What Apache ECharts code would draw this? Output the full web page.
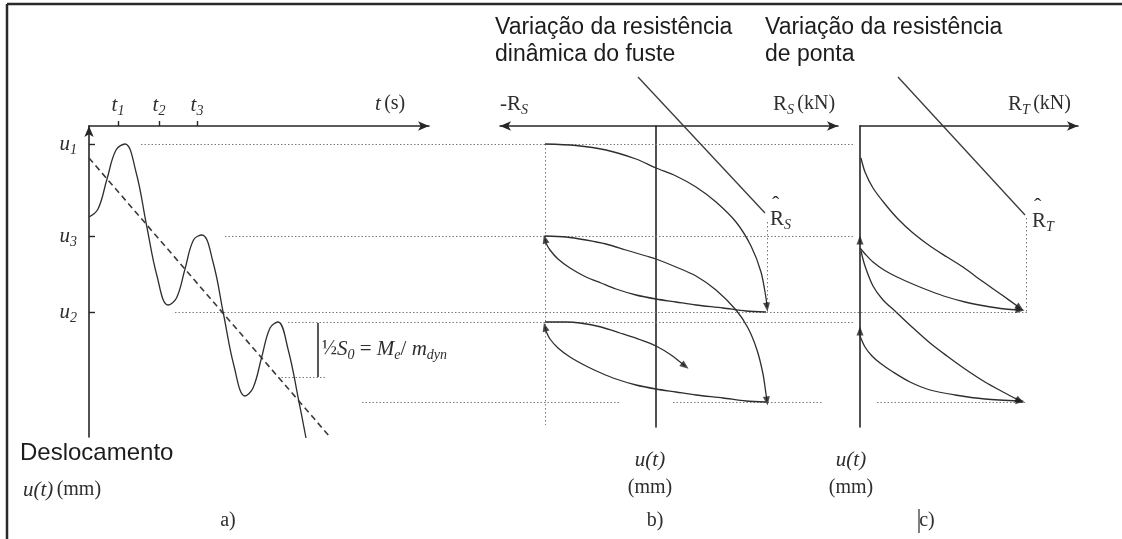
<!DOCTYPE html>
<html>
<head>
<meta charset="utf-8">
<script src="https://cdn.jsdelivr.net/npm/echarts@6/dist/echarts.min.js"></script>
<style>
  html, body { margin: 0; padding: 0; background: #ffffff; }
  #chart { width: 1122px; height: 539px; }
</style>
</head>
<body>
<div id="chart"></div>
<script>
// ---- panel a: displacement history u(t) -------------------------------
const timeTicks = [2.9, 7.0, 10.8];          // t1, t2, t3 (s)
const timeTickSubs = ['1', '2', '3'];
const dispTicks = [1.8, 11.0, 18.6];         // u1, u3, u2 (mm)
const dispTickSubs = ['1', '3', '2'];

// mean (permanent set) trend of the displacement
const trendLine = [[0, 3.2], [24.1, 31.1]];
// oscillating pile-head displacement
const displacementWave = [
  [0, 9.1], [0.9, 8.3], [1.8, 5.3], [2.7, 2.4], [3.6, 1.8], [4.7, 4.6],
  [5.75, 9.9], [6.8, 15.0], [7.9, 17.9], [8.75, 17.2], [9.6, 14.3], [10.45, 11.4],
  [11.3, 10.9], [12.4, 13.6], [13.45, 18.8], [14.5, 24.0], [15.6, 27.0], [16.4, 26.2],
  [17.25, 23.2], [18.1, 20.2], [18.9, 19.6], [19.9, 22.3], [21.0, 27.6], [21.7, 31.2]
];
// half rebound  1/2 S0 = Me / mdyn
const reboundBar = [[22.9, 19.7], [22.9, 25.1]];

// dotted reference levels (u, mm) and their extents along the time axis
const guideLevels = [1.8, 11.0, 18.6, 19.6, 25.1];
const guideSpans = [[5.2, 76.6], [13.6, 76.6], [8.6, 93.8], [19.9, 76.6], [18.9, 23.8]];
const lowLevel = 27.6;
const lowSpans = [[27.3, 53.1], [58.4, 73.3], [78.8, 93.6]];

// ---- panel b: dynamic shaft resistance R_S (kN) vs u (mm) ---------------
const shaftLoad1 = [
  [-11.1, 1.8], [-8, 1.95], [-5, 2.4], [-2, 3.3], [0, 4.2], [2, 5.0], [4, 6.1],
  [6, 7.6], [8, 9.6], [9.5, 12.0], [10.5, 14.6], [11.0, 17.2], [11.1, 18.1]
];
const shaftUnload1 = [
  [11.0, 18.6], [9, 18.5], [6.7, 18.2], [4, 17.9], [2, 17.6], [0, 17.3], [-2, 16.9],
  [-4, 16.3], [-5.5, 15.7], [-7, 15.1], [-8.6, 14.2], [-9.8, 13.3], [-10.6, 12.4],
  [-11.0, 11.7], [-11.1, 11.3]
];
const shaftLoad2 = [
  [-11.1, 11.0], [-9, 11.1], [-7, 11.4], [-5, 11.8], [-3, 12.4], [-1, 13.0], [0, 13.3],
  [2, 14.1], [4, 15.0], [6, 16.4], [8, 18.4], [9.2, 20.2], [10.1, 22.4], [10.7, 24.8],
  [11.0, 26.8], [11.1, 27.5]
];
const shaftUnload2 = [
  [11.0, 27.6], [9, 27.5], [6.7, 27.2], [4, 26.9], [2, 26.6], [0, 26.3], [-2, 25.9],
  [-4, 25.3], [-5.5, 24.7], [-7, 24.0], [-8.6, 23.1], [-9.8, 22.2], [-10.6, 21.3],
  [-11.0, 20.5], [-11.1, 20.1]
];
const shaftLoad3 = [
  [-11.1, 19.6], [-9, 19.6], [-7.6, 19.7], [-5.5, 20.1], [-3.6, 20.7], [-1.5, 21.4],
  [0, 22.0], [1.5, 22.9], [2.9, 24.0]
];
const shaftLimitNeg = [[-11.1, 1.8], [-11.1, 29.9]];
const shaftLimitPos = [[11.1, 9.6], [11.1, 18.6]];
const shaftPointer = [[-1.8, -4.9], [10.9, 8.7]];

// ---- panel c: toe resistance R_T (kN) vs u (mm) -------------------------
const toeLoad1 = [
  [0.1, 3.2], [0.5, 4.6], [1.3, 6.2], [2.5, 7.8], [3.8, 9.3], [5.3, 10.7], [7, 12.0],
  [8.7, 13.1], [10.3, 14.1], [12.2, 15.5], [14.2, 16.9], [16.0, 18.2]
];
const toeLoad2 = [
  [0, 12.2], [0.6, 12.9], [1.3, 13.6], [2.4, 14.4], [3.7, 15.1], [5.5, 15.9], [7, 16.5],
  [8.7, 17.1], [10.5, 17.6], [12.5, 18.0], [14.5, 18.3], [16.0, 18.4]
];
const toeLoad3 = [
  [0.1, 12.5], [0.5, 14.0], [1.3, 16.0], [2.3, 17.4], [3.5, 18.5], [5.2, 20.1], [7, 21.7],
  [8.7, 23.0], [10.5, 24.3], [12.5, 25.6], [14.3, 26.6], [16.0, 27.5]
];
const toeLoad4 = [
  [0, 21.0], [0.5, 22.1], [1.2, 23.0], [2.0, 23.7], [3.3, 24.6], [5, 25.6], [7, 26.4],
  [9.5, 26.9], [12.5, 27.3], [16.0, 27.5]
];
const toeRebound = [[0, 11.4], [0, 20.5]];
const toeLimit = [[16.6, 9.2], [16.6, 18.6]];
const toePointer = [[3.8, -4.9], [16.5, 8.9]];

// ---- styling -------------------------------------------------------------
const INK = '#2e2e2e';
const AXIS = '#262626';
const GUIDE = '#7a7a7a';
const SERIF = '"Liberation Serif", "DejaVu Serif", serif';
const SANS = '"Liberation Sans", Arial, sans-serif';

const rich = {
  i: { fontFamily: SERIF, fontStyle: 'italic', fontSize: 21, lineHeight: 26, color: INK },
  r: { fontFamily: SERIF, fontSize: 21, lineHeight: 26, color: INK },
  rs: { fontFamily: SERIF, fontSize: 20, lineHeight: 26, color: INK },
  s: { fontFamily: SERIF, fontStyle: 'italic', fontSize: 14, color: INK, verticalAlign: 'bottom' }
};

function curve(grid, data, extra) {
  return Object.assign({
    type: 'line', xAxisIndex: grid, yAxisIndex: grid, data: data,
    smooth: 0.3, symbol: 'none', showSymbol: false, clip: false,
    silent: true, animation: false, z: 3,
    lineStyle: { color: INK, width: 1.3 }
  }, extra || {});
}
// straight dotted guides; a lines series is left unclipped so it can cross panels
function guides(grid, segments, dash) {
  return {
    type: 'lines', coordinateSystem: 'cartesian2d', xAxisIndex: grid, yAxisIndex: grid,
    data: segments.map(s => ({ coords: s })), clip: false, silent: true,
    animation: false, z: 1, symbol: ['none', 'none'],
    lineStyle: { color: GUIDE, width: 1, type: dash || [1.5, 2], opacity: 1 }
  };
}
// arrowhead oriented along the last segment of a path (both axes use the same scale)
function headAt(path) {
  const a = path[path.length - 2], b = path[path.length - 1];
  const ang = Math.atan2(-(b[1] - a[1]), b[0] - a[0]) * 180 / Math.PI - 90;
  return { value: b, symbolRotate: ang };
}
function heads(grid, items) {
  return {
    type: 'scatter', xAxisIndex: grid, yAxisIndex: grid, data: items,
    symbol: 'triangle', symbolSize: [7, 9], clip: false, silent: true,
    animation: false, z: 4, itemStyle: { color: '#1e1e1e' }
  };
}

const levelSegments = guideLevels.map((u, k) => [[guideSpans[k][0], u], [guideSpans[k][1], u]])
  .concat(lowSpans.map(sp => [[sp[0], lowLevel], [sp[1], lowLevel]]));

const series = [];
// panel a
series.push(guides(0, levelSegments));
series.push(curve(0, trendLine, { smooth: false, lineStyle: { color: '#3a3a3a', width: 1.6, type: [6, 4] } }));
series.push(curve(0, displacementWave, { smooth: 0.4 }));
series.push(curve(0, reboundBar, { smooth: false, lineStyle: { color: INK, width: 1.6 } }));
// panel b
series.push(guides(1, [shaftLimitNeg, shaftLimitPos], [1.5, 2.5]));
series.push(curve(1, shaftPointer, { smooth: false, lineStyle: { color: '#3a3a3a', width: 1.3 } }));
[shaftLoad1, shaftUnload1, shaftLoad2, shaftUnload2, shaftLoad3].forEach(p => series.push(curve(1, p)));
series.push(heads(1, [shaftLoad1, shaftUnload1, shaftLoad2, shaftUnload2, shaftLoad3].map(headAt)));
// panel c
series.push(guides(2, [toeLimit], [1.5, 2.5]));
series.push(curve(2, toePointer, { smooth: false, lineStyle: { color: '#3a3a3a', width: 1.3 } }));
[toeLoad1, toeLoad2, toeLoad3, toeLoad4].forEach(p => series.push(curve(2, p)));
series.push(heads(2, [toeLoad1, toeLoad2, toeLoad3, toeLoad4].map(headAt)
  .concat(toeRebound.map(p => ({ value: p, symbolRotate: 0 })))));

const axisLineStyle = { color: AXIS, width: 1.6 };
const hidden = { axisTick: { show: false }, axisLabel: { show: false }, splitLine: { show: false } };

function text(x, y, str, extra) {
  return {
    type: 'text', x: x, y: y, silent: true, z: 10,
    style: Object.assign({ text: str, rich: rich, fill: INK, align: 'left', verticalAlign: 'middle' }, extra || {})
  };
}
function line(x1, y1, x2, y2, w) {
  return { type: 'line', silent: true, z: 10, shape: { x1, y1, x2, y2 }, style: { stroke: '#2a2a2a', lineWidth: w } };
}

const option = {
  backgroundColor: '#ffffff',
  animation: false,
  grid: [
    { left: 89, top: 126, width: 340, height: 311 },
    { left: 500, top: 126, width: 338, height: 301 },
    { left: 860, top: 126, width: 218, height: 301 }
  ],
  xAxis: [
    {
      gridIndex: 0, type: 'value', min: 0, max: 34, position: 'top',
      axisLine: { onZero: false, symbol: ['none', 'arrow'], symbolSize: [7, 11], lineStyle: axisLineStyle },
      axisTick: { customValues: timeTicks, length: 5, lineStyle: { color: AXIS, width: 1.4 } },
      axisLabel: {
        customValues: timeTicks, margin: 8, rich: rich,
        formatter: v => '{i|t}{s|' + timeTickSubs[timeTicks.indexOf(v)] + '}'
      },
      splitLine: { show: false }
    },
    Object.assign({
      gridIndex: 1, type: 'value', min: -15.6, max: 18.2, position: 'top',
      axisLine: { onZero: false, symbol: ['arrow', 'arrow'], symbolSize: [7, 11], lineStyle: axisLineStyle }
    }, hidden),
    Object.assign({
      gridIndex: 2, type: 'value', min: 0, max: 21.8, position: 'top',
      axisLine: { onZero: false, symbol: ['none', 'arrow'], symbolSize: [7, 11], lineStyle: axisLineStyle }
    }, hidden)
  ],
  yAxis: [
    {
      gridIndex: 0, type: 'value', min: 0, max: 31.1, inverse: true,
      axisLine: { onZero: false, symbol: ['none', 'arrow'], symbolSize: [7, 11], lineStyle: axisLineStyle },
      axisTick: { customValues: dispTicks, inside: true, length: 6, lineStyle: { color: AXIS, width: 1.4 } },
      axisLabel: {
        customValues: dispTicks, margin: 12, rich: rich,
        formatter: v => '{i|u}{s|' + dispTickSubs[dispTicks.indexOf(v)] + '}'
      },
      splitLine: { show: false }
    },
    Object.assign({
      gridIndex: 1, type: 'value', min: 0, max: 30.1, inverse: true,
      axisLine: { onZero: true, lineStyle: axisLineStyle }
    }, hidden),
    Object.assign({
      gridIndex: 2, type: 'value', min: 0, max: 30.1, inverse: true,
      axisLine: { onZero: false, lineStyle: axisLineStyle }
    }, hidden)
  ],
  series: series,
  graphic: [
    // frame
    line(7, 4, 1122, 4, 2.5),
    line(7, 4, 7, 539, 2.5),
    // panel titles
    text(495, 14, 'Variação da resistência\ndinâmica do fuste',
      { rich: null, font: '23px ' + SANS, lineHeight: 27, fill: '#1c1c1c', verticalAlign: 'top' }),
    text(765, 14, 'Variação da resistência\nde ponta',
      { rich: null, font: '23px ' + SANS, lineHeight: 27, fill: '#1c1c1c', verticalAlign: 'top' }),
    // axis names
    text(375, 104, '{i|t} {rs|(s)}'),
    text(500, 104, '{r|-R}{s|S}'),
    text(773, 104, '{r|R}{s|S} {rs|(kN)}'),
    text(1008, 104, '{r|R}{s|T} {rs|(kN)}'),
    // peak resistances
    text(770, 219, '{r|R}{s|S}'),
    text(772, 205, 'ˆ', { rich: null, font: '22px ' + SERIF }),
    text(1032, 221, '{r|R}{s|T}'),
    text(1034, 207, 'ˆ', { rich: null, font: '22px ' + SERIF }),
    // rebound annotation
    text(322, 349, '{rs|½}{i|S}{s|0}{r| = }{i|M}{s|e}{r|/ }{i|m}{s|dyn}'),
    // displacement axis names
    text(20, 453, 'Deslocamento', { rich: null, font: '24px ' + SANS, fill: '#1c1c1c' }),
    text(23, 490, '{i|u(t)} {rs|(mm)}'),
    text(650, 460, '{i|u(t)}', { align: 'center' }),
    text(650, 488, '{rs|(mm)}', { align: 'center' }),
    text(851, 460, '{i|u(t)}', { align: 'center' }),
    text(851, 488, '{rs|(mm)}', { align: 'center' }),
    // panel captions
    text(228, 521, '{rs|a)}', { align: 'center' }),
    text(655, 521, '{rs|b)}', { align: 'center' }),
    text(927, 521, '{rs|c)}', { align: 'center' }),
    line(919, 509, 919, 533, 1.2)
  ]
};

const chart = echarts.init(document.getElementById('chart'), null, { renderer: 'canvas' });
chart.setOption(option);
</script>
</body>
</html>
